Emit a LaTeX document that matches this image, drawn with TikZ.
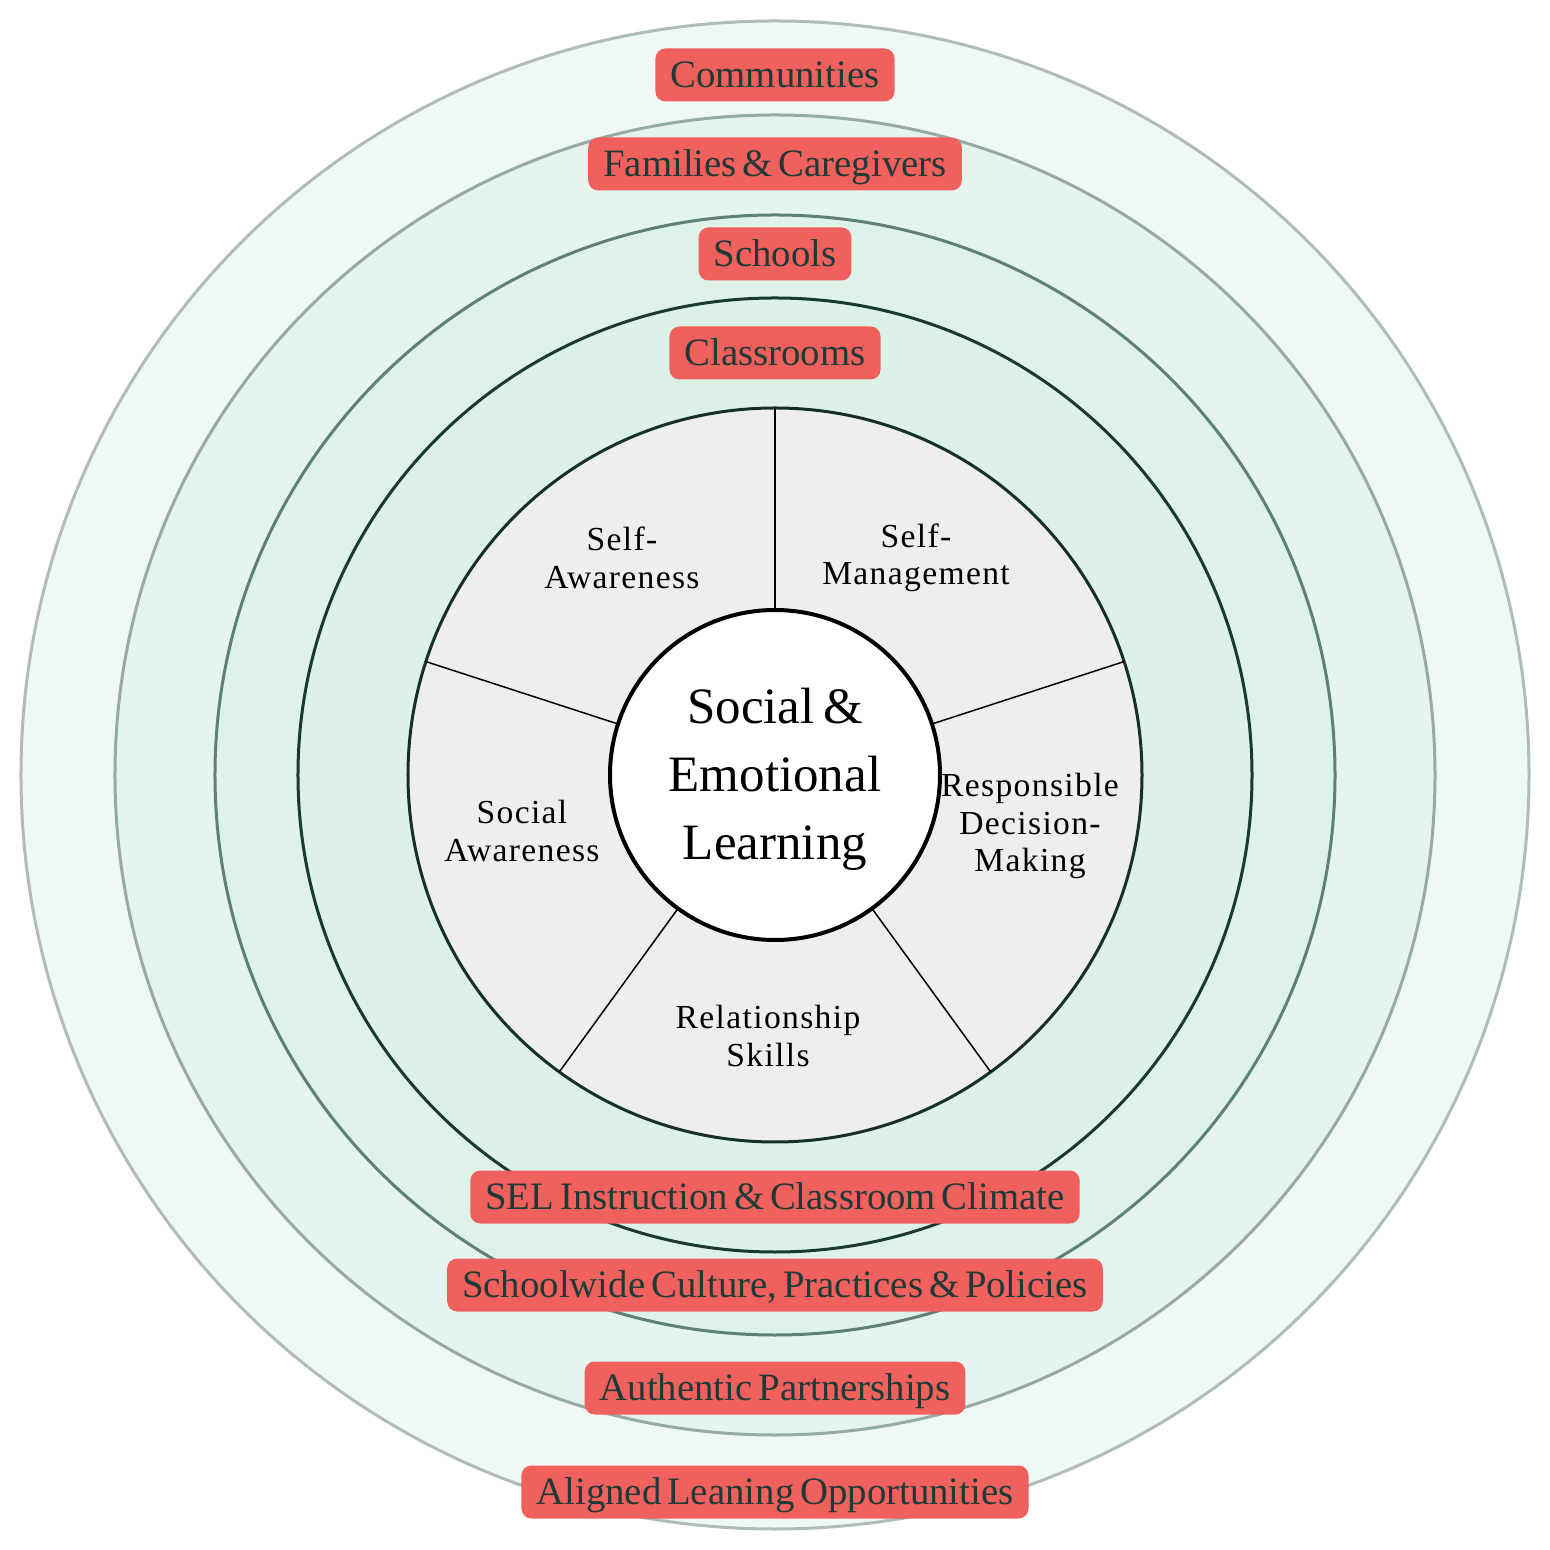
\documentclass[tikz,border=0pt]{standalone}
\usepackage{fontspec}
\setmainfont{Liberation Serif}
\newfontfamily\tagfont{Liberation Serif}[WordSpace=0.6]
\newfontfamily\compfont{Liberation Serif}[LetterSpace=4]
\definecolor{ringAf}{HTML}{F0F8F5}
\definecolor{ringAd}{HTML}{AEBDB8}
\definecolor{ringBf}{HTML}{E5F5EE}
\definecolor{ringBd}{HTML}{97ABA5}
\definecolor{ringCf}{HTML}{DEF2EA}
\definecolor{ringCd}{HTML}{5F8078}
\definecolor{ringDf}{HTML}{DCF1E8}
\definecolor{ringDd}{HTML}{183A33}
\definecolor{piefill}{HTML}{EEEEEE}
\definecolor{piedraw}{HTML}{15302B}
\definecolor{tagred}{HTML}{F0605D}
\definecolor{tagtext}{HTML}{1E3A36}
\begin{document}
\begin{tikzpicture}[x=0.5pt,y=0.5pt,
  ring/.style={circle, draw, line width=1.5pt, inner sep=0pt, outer sep=0pt},
  tag/.style={fill=tagred, rounded corners=5pt, text=tagtext,
    font=\tagfont\fontsize{19.4}{23}\selectfont, inner xsep=7.5pt, inner ysep=0pt,
    minimum height=26.5pt, text height=12.8pt, text depth=0pt},
  comp/.style={align=center, font=\compfont\fontsize{16.8}{18.8}\selectfont, text=black},
  spoke/.style={line width=0.75pt, black}]
\useasboundingbox (-775,-775) rectangle (775,775);
\node[ring, fill=ringAf, draw=ringAd, minimum size=754pt] (r1) at (0,0) {};
\node[ring, fill=ringBf, draw=ringBd, minimum size=660pt] (r2) at (0,0) {};
\node[ring, fill=ringCf, draw=ringCd, minimum size=560pt] (r3) at (0,0) {};
\node[ring, fill=ringDf, draw=ringDd, minimum size=477pt] (r4) at (0,0) {};
\node[ring, fill=piefill, draw=piedraw, minimum size=367pt] (pie) at (0,0) {};
\node[circle, inner sep=0pt, outer sep=0pt, minimum size=165pt] (hub) at (0,0) {};
\foreach \a in {90,18,-54,-126,162}
  \draw[spoke] (hub.\a) -- (pie.\a);
\node[ring, fill=white, draw=black, line width=2pt, minimum size=165pt] (core) at (0,0) {};
\node[align=center, font=\fontsize{25.5}{34}\selectfont, text=black] (coretext) at (0,-4) {Social\,\&\\Emotional\\Learning};
\node[comp] (sa) at (-153,217) {Self-\\Awareness};
\node[comp] (sm) at (141,217) {Self-\\Management};
\node[comp] (rd) at (255,-51) {Responsible\\Decision-\\Making};
\node[comp] (soa) at (-253,-56) {Social\\Awareness};
\node[comp] (rs) at (-7,-261) {Relationship\\Skills};
\node[tag] (t1) at (0,700) {Communities};
\node[tag] (t2) at (0,611) {Families \& Caregivers};
\node[tag] (t3) at (0,521) {Schools};
\node[tag] (t4) at (0,422) {Classrooms};
\node[tag] (t5) at (0,-422) {SEL Instruction \& Classroom Climate};
\node[tag] (t6) at (0,-510) {Schoolwide Culture, Practices \& Policies};
\node[tag] (t7) at (0,-613) {Authentic Partnerships};
\node[tag] (t8) at (0,-717) {Aligned Leaning Opportunities};
\end{tikzpicture}
\end{document}
